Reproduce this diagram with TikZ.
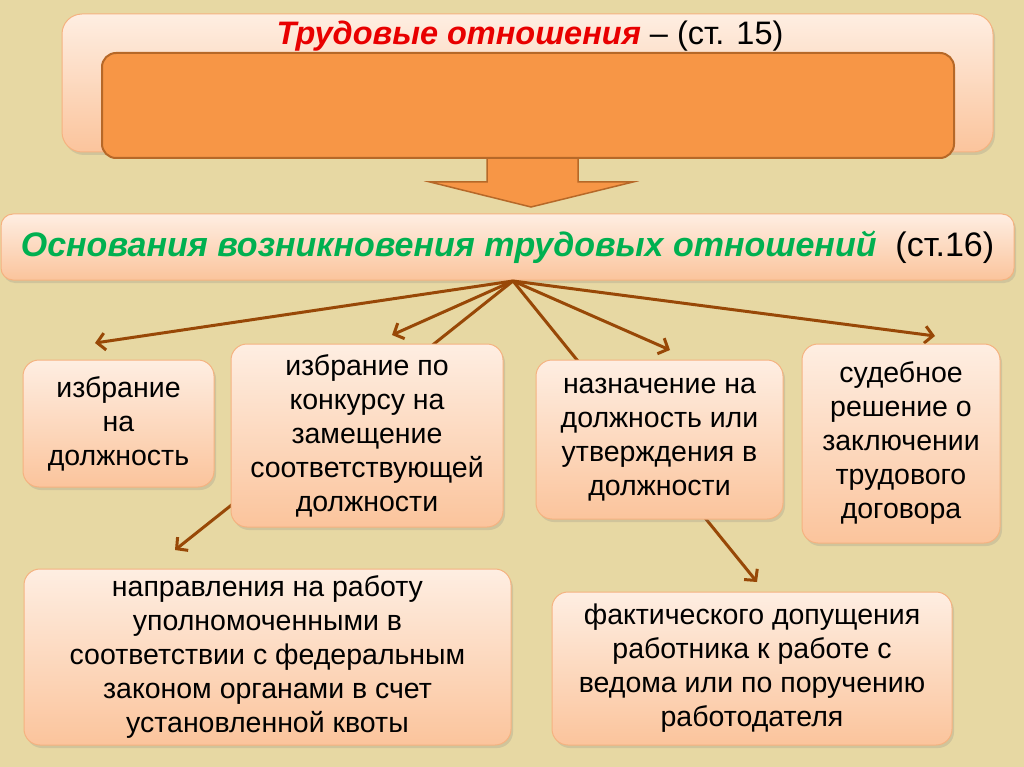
\documentclass[tikz,border=0pt]{standalone}
\usepackage{fontspec}
\setmainfont{Liberation Sans}
\usetikzlibrary{arrows.meta,shadows}
\definecolor{bg}{RGB}{231,216,163}
\definecolor{peachtop}{RGB}{254,238,226}
\definecolor{peachbot}{RGB}{251,196,156}
\definecolor{peachline}{RGB}{245,178,128}
\definecolor{orng}{RGB}{247,150,70}
\definecolor{orngline}{RGB}{182,104,40}
\definecolor{arrowbrown}{RGB}{152,72,7}
\definecolor{titlered}{RGB}{232,0,0}
\definecolor{titlegreen}{RGB}{0,176,80}
\tikzset{
  peachbox/.style={rounded corners=16pt, draw=peachline, line width=1pt,
    top color=peachtop, bottom color=peachbot,
    drop shadow={opacity=0.22, shadow xshift=2pt, shadow yshift=-3pt},
    align=center, inner sep=0pt, font=\fontsize{28.5}{34}\selectfont},
  orangebox/.style={rounded corners=14pt, draw=orngline, line width=2pt, fill=orng},
  conn/.style={draw=arrowbrown, line width=3pt, -{Straight Barb[length=8pt,width=17pt]}},
}
\begin{document}
\begin{tikzpicture}[x=1pt,y=-1pt]
\fill[bg] (0,0) rectangle (1024,767);
\useasboundingbox (0,0) rectangle (1024,767);
% top block
\node[peachbox, rounded corners=20pt, minimum width=931pt, minimum height=138pt] (outer) at (527.5,83) {};
\node[font=\fontsize{32.5}{36}\selectfont, inner sep=0pt] (title) at (530,36) {\textcolor{titlered}{\textbf{\textit{Трудовые отношения}}} – (ст. 15)};
\draw[orangebox, rounded corners=0pt, line width=1.5pt] (487,140) -- (578,140) -- (578,182) -- (633,182) -- (531,207) -- (430,182) -- (487,182) -- cycle;
\node[orangebox, minimum width=852pt, minimum height=105pt] (inner) at (528,105.5) {};
% main heading
\node[peachbox, rounded corners=12pt, minimum width=1013pt, minimum height=66pt, font=\fontsize{34}{38}\selectfont] (main) at (507.5,247) {\textcolor{titlegreen}{\textbf{\textit{Основания возникновения трудовых отношений}}}\ \ (ст.16)};
\coordinate (O) at (513,281);
\coordinate (e1) at (95,343);
\coordinate (e2) at (392,335);
\coordinate (e3) at (175,550);
\coordinate (e4) at (670,350);
\coordinate (e5) at (757,582);
\coordinate (e6) at (935,336);
\draw[conn] (O) -- (e1);
\draw[conn] (O) -- (e2);
\draw[conn] (O) -- (e3);
\draw[conn] (O) -- (e4);
\draw[conn] (O) -- (e5);
\draw[conn] (O) -- (e6);
% boxes
\node[peachbox, minimum width=191pt, minimum height=127pt] (b1) at (118.5,423.5) {избрание\\на\\должность};
\node[peachbox, minimum width=272pt, minimum height=183pt] (b2) at (367,435.5) {избрание по\\конкурсу на\\замещение\\соответствующей\\должности};
\node[peachbox, minimum width=247pt, minimum height=159pt] (b3) at (659.5,439.5) {назначение на\\должность или\\утверждения в\\должности};
\node[peachbox, minimum width=198pt, minimum height=199pt] (b4) at (901,443.5) {судебное\\решение о\\заключении\\трудового\\договора};
\node[peachbox, minimum width=487pt, minimum height=176pt] (b5) at (267.5,657) {направления на работу\\уполномоченными в\\соответствии с федеральным\\законом органами в счет\\установленной квоты};
\node[peachbox, minimum width=400pt, minimum height=153pt] (b6) at (752,668.5) {фактического допущения\\работника к работе с\\ведома или по поручению\\работодателя};
\end{tikzpicture}
\end{document}
